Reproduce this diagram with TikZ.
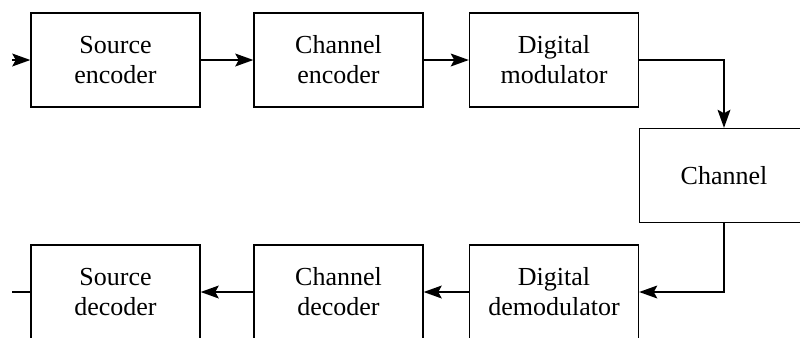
\documentclass[tikz,border=0pt]{standalone}
\usepackage{fontspec}
\setmainfont{Liberation Serif}
\usetikzlibrary{arrows.meta}
\begin{document}
\begin{tikzpicture}[x=0.75pt,y=-0.75pt,
    block/.style={draw,line width=0.9pt,minimum width=126.75pt,minimum height=70.5pt,
      align=center,font=\fontsize{19.5}{22.5}\selectfont},
    link/.style={line width=1.9pt,-{Stealth[length=13.5pt,width=9.5pt,inset=2.5pt]}}]
      \clip (0,0) rectangle (800,337);
      \draw
        (115.5,60) node[block] (se){Source\\encoder}
        (338.5,60) node[block] (ce){Channel\\encoder}
        (554,60) node[block] (dm){Digital\\modulator}
        (724,175.5) node[block] (ch){Channel}
        (554,292) node[block] (dd){Digital\\demodulator}
        (338.5,292) node[block] (cd){Channel\\decoder}
        (115.5,292) node[block] (sd){Source\\decoder};
      \coordinate (in) at (12,60);
      \coordinate (out) at (12,292);
      \begin{scope}[link]
        \draw (in) -- (se);
        \draw (se) -- (ce);
        \draw (ce) -- (dm);
        \draw (dm) -| (ch);
        \draw (ch) |- (dd);
        \draw (dd) -- (cd);
        \draw (cd) -- (sd);
        \draw[-] (sd) -- (out);
      \end{scope}
    \end{tikzpicture}
\end{document}
